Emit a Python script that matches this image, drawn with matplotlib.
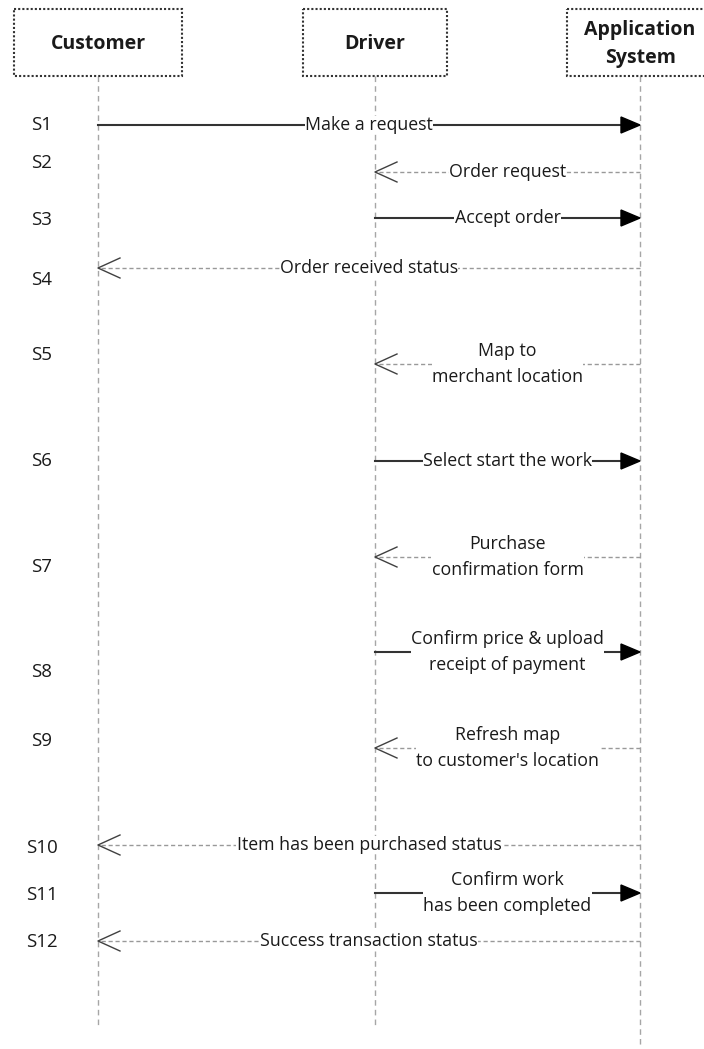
import matplotlib.pyplot as plt
from matplotlib.patches import Rectangle, Polygon


# participants of the sequence diagram
actors = ['Customer', 'Driver', 'Application\nSystem']

# steps: label, message, sender, receiver, kind
step_labels = ['S1', 'S2', 'S3', 'S4', 'S5', 'S6',
               'S7', 'S8', 'S9', 'S10', 'S11', 'S12']
messages = ['Make a request', 'Order request', 'Accept order',
            'Order received status', 'Map to\nmerchant location',
            'Select start the work', 'Purchase\nconfirmation form',
            'Confirm price & upload\nreceipt of payment',
            'Refresh map\nto customer\'s location',
            'Item has been purchased status',
            'Confirm work\nhas been completed',
            'Success transaction status']
senders = [0, 2, 1, 2, 2, 1, 2, 1, 2, 2, 1, 2]
receivers = [2, 1, 2, 0, 1, 2, 1, 2, 1, 0, 2, 0]
is_reply = [False, True, False, True, True, False,
            True, False, True, True, False, True]

# layout (pixel coords)
W, H = 704, 1049
actor_x = [98, 375, 640]
box_left = [14, 303, 567]
box_right = [182, 447, 712]
box_top, box_bottom = 9, 76
lifeline_end = [1025, 1025, 1047]
arrow_y = [125, 172, 218, 268, 364, 461, 557, 652, 748, 845, 893, 941]
label_y = [125, 163, 220, 280, 355, 461, 567, 672, 741, 848, 895, 942]

FONT = 'Open Sans'


def draw_box(ax, i):
    rect = Rectangle((box_left[i], box_top), box_right[i] - box_left[i],
                     box_bottom - box_top, fill=False, edgecolor='#333333',
                     linewidth=1.5, linestyle=(0, (1, 1)), zorder=3)
    ax.add_patch(rect)
    ax.text(actor_x[i], (box_top + box_bottom) / 2 + 1.5, actors[i],
            ha='center', va='center', fontsize=14, fontweight='bold',
            family=FONT, color='#1a1a1a', linespacing=1.6, zorder=4)


def draw_message(ax, k):
    x0 = actor_x[senders[k]]
    x1 = actor_x[receivers[k]]
    y = arrow_y[k]
    d = 1 if x1 > x0 else -1
    if is_reply[k]:
        ax.plot([x0, x1], [y, y], color='#999999', lw=1.0,
                dashes=(3, 2), zorder=2)
        ax.plot([x1 - d * 22, x1, x1 - d * 22], [y - 10, y, y + 10],
                color='#404040', lw=1.0, zorder=2)
    else:
        ax.plot([x0, x1 - d * 16], [y, y], color='#333333', lw=1.5,
                zorder=2)
        ax.add_patch(Polygon([[x1, y], [x1 - d * 19, y - 8],
                              [x1 - d * 19, y + 8]], closed=True,
                             facecolor='black', edgecolor='black',
                             zorder=2))
    ax.text((x0 + x1) / 2, y, messages[k], ha='center', va='center',
            fontsize=12.8, family=FONT, color='#1a1a1a', linespacing=1.55,
            bbox=dict(facecolor='white', edgecolor='none', pad=0.2),
            zorder=3)


def main():
    fig = plt.figure(figsize=(W / 100, H / 100), dpi=100)
    ax = fig.add_axes([0, 0, 1, 1])
    ax.set_xlim(0, W)
    ax.set_ylim(H, 0)
    ax.axis('off')

    for i in range(len(actors)):
        ax.plot([actor_x[i], actor_x[i]], [box_bottom, lifeline_end[i]],
                color='#a6a6a6', lw=1.0, dashes=(4, 3), zorder=1)
        draw_box(ax, i)

    for k in range(len(messages)):
        draw_message(ax, k)
        ax.text(42, label_y[k], step_labels[k], ha='center', va='center',
                fontsize=13.5, family=FONT, color='#1a1a1a')

    fig.savefig('out.png', dpi=100, facecolor='white')


if __name__ == "__main__":
    main()
